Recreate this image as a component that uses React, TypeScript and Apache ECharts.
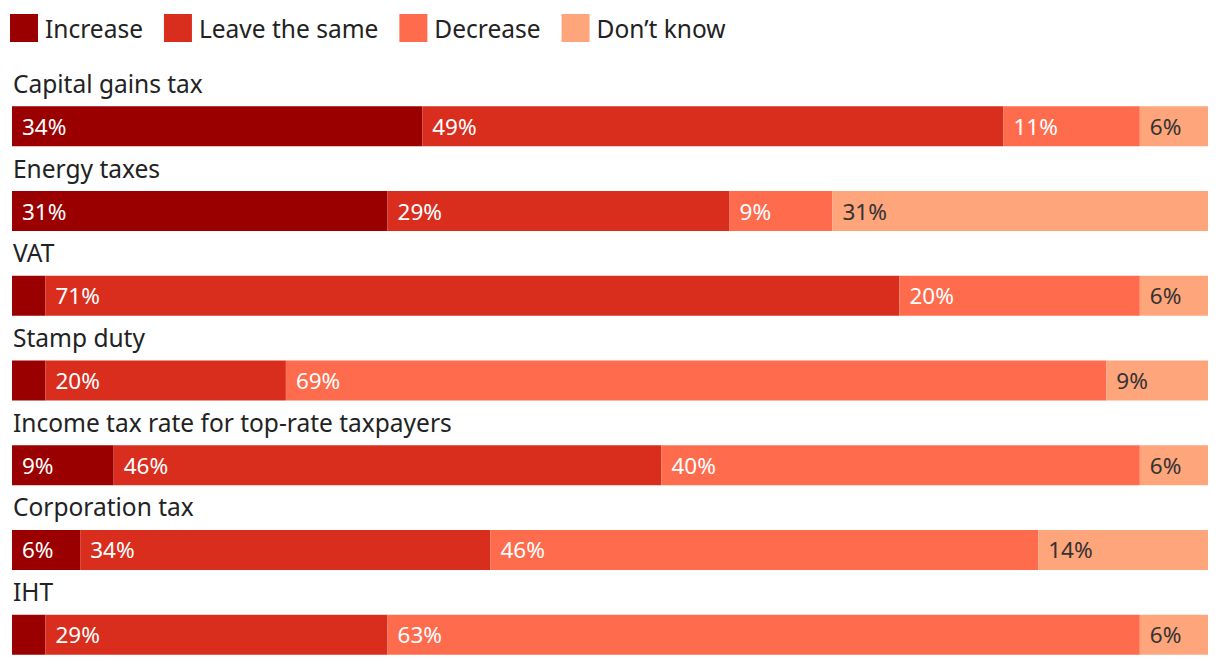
import React, { useEffect, useRef } from "react";
import * as echarts from "echarts";

const categories = [
  "Capital gains tax",
  "Energy taxes",
  "VAT",
  "Stamp duty",
  "Income tax rate for top-rate taxpayers",
  "Corporation tax",
  "IHT",
];
const seriesNames = ["Increase", "Leave the same", "Decrease", "Don\u2019t know"];
const increase = [34.3, 31.4, 2.8, 2.8, 8.5, 5.7, 2.8];
const leaveSame = [48.6, 28.6, 71.4, 20.1, 45.8, 34.3, 28.6];
const decrease = [11.4, 8.6, 20.1, 68.6, 40.0, 45.8, 62.9];
const dontKnow = [5.7, 31.4, 5.7, 8.5, 5.7, 14.2, 5.7];
const colors = ["#9b0000", "#d92e1e", "#ff6b4d", "#ffa57c"];
const labelColors = ["#ffffff", "#ffffff", "#ffffff", "#333333"];

const FONT = "'Noto Sans', 'Open Sans', sans-serif";

export default function App() {
  const ref = useRef<HTMLDivElement>(null);
  useEffect(() => {
    document.body.style.margin = "0";
    document.body.style.overflow = "hidden";
    const chart = echarts.init(ref.current!, null, { renderer: "svg" });
    const allData = [increase, leaveSame, decrease, dontKnow];
    chart.setOption({
      animation: false,
      textStyle: { fontFamily: FONT },
      legend: {
        left: 5,
        top: 9,
        itemWidth: 28,
        itemHeight: 28,
        itemGap: 21,
        icon: "rect",
        textStyle: { fontSize: 24.5, color: "#222", fontFamily: FONT, padding: [0, 0, 0, 2] },
        data: seriesNames,
      },
      grid: {
        left: 12,
        right: 12,
        top: 84,
        height: 593,
        containLabel: false,
        outerBoundsMode: "none",
      },
      xAxis: { type: "value", min: 0, max: 100, show: false },
      yAxis: {
        type: "category",
        inverse: true,
        data: categories,
        axisLine: { show: false },
        axisTick: { show: false },
        z: 10,
        axisLabel: {
          inside: true,
          interval: 0,
          showMinLabel: true,
          showMaxLabel: true,
          hideOverlap: false,
          margin: 1,
          align: "left",
          verticalAlign: "middle",
          formatter: (v: string) => "{a|" + v + "}\n{b| }",
          rich: {
            a: { fontSize: 24.5, lineHeight: 26, color: "#222", fontFamily: FONT },
            b: { fontSize: 10, lineHeight: 86, height: 86 },
          },
        },
      },
      series: seriesNames.map((name, i) => ({
        name,
        type: "bar",
        stack: "total",
        barWidth: 40,
        itemStyle: { color: colors[i] },
        label: {
          show: true,
          position: "insideLeft",
          distance: 10,
          fontSize: 22.5,
          fontFamily: FONT,
          color: labelColors[i],
          formatter: (p: any) => (p.value < 4 ? "" : Math.round(p.value) + "%"),
        },
        data: allData[i],
      })),
    });
    return () => chart.dispose();
  }, []);
  return <div ref={ref} style={{ width: 1220, height: 680 }} />;
}
